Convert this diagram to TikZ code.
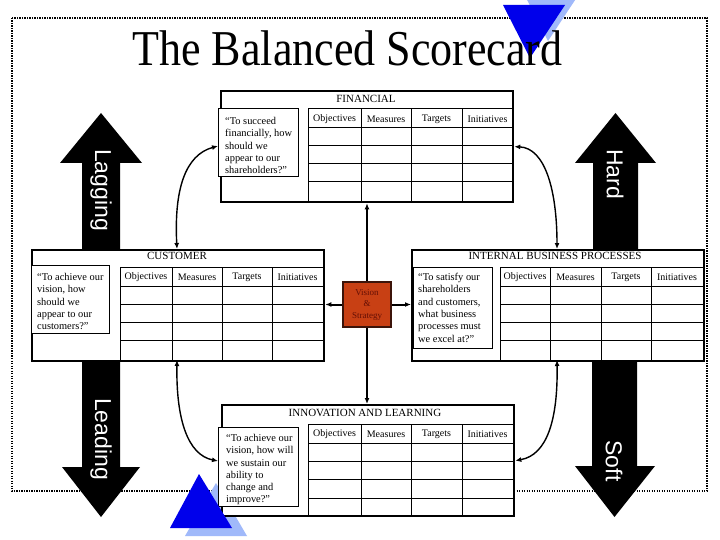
\documentclass[tikz,border=0pt]{standalone}
\usepackage{fontspec}
\usepackage{graphicx}
\setmainfont{Liberation Serif}
\newfontfamily\arialfont{Liberation Sans}
\usetikzlibrary{arrows.meta}
\definecolor{dblue}{RGB}{0,0,235}
\definecolor{lblue}{RGB}{160,185,250}
\definecolor{visfill}{RGB}{200,64,20}
\definecolor{vistext}{RGB}{100,15,5}
\definecolor{visedge}{RGB}{60,20,10}
\begin{document}
\begin{tikzpicture}[x=1pt,y=-1pt,
  box/.style={draw, line width=2.3pt, fill=white, minimum width=292pt, minimum height=111pt, anchor=north west, inner sep=0pt},
  qbox/.style={draw, line width=1.2pt, fill=white, anchor=north west, inner sep=0pt},
  qtext/.style={anchor=north west, inner sep=0pt, align=left, font=\fontsize{10.4}{12.3}\selectfont},
  grid/.style={line width=1pt},
  hdr/.style={font=\fontsize{10}{12}\selectfont, inner sep=0pt},
  ttl/.style={font=\fontsize{11}{13}\selectfont, inner sep=0pt},
  blk/.style={fill=black},
  bigtxt/.style={text=white, rotate=-90, font=\arialfont\fontsize{23}{23}\selectfont, inner sep=0pt},
  arr/.style={line width=2pt, -{Latex[length=6pt,width=5pt]}},
  carr/.style={line width=1.4pt, {Latex[length=6pt,width=5pt]}-{Latex[length=6pt,width=5pt]}},
  vis/.style={draw=visedge, line width=1.6pt, fill=visfill, text=vistext, align=center, font=\fontsize{9}{11.5}\selectfont, minimum width=48pt, minimum height=45pt, inner sep=0pt}
]
\useasboundingbox (0,0) rectangle (720,540);
\fill[white] (0,0) rectangle (720,540);

% dotted frame
\draw[line width=2.6pt, dash pattern=on 1.4pt off 1.1pt] (12,18) rectangle (707,491);

% light shadow triangles
\fill[lblue] (521,-12) -- (583,-12) -- (548,41) -- cycle;
\fill[lblue] (185,536) -- (247,536) -- (216,483) -- cycle;

% block arrows
\fill[blk] (82,249) -- (82,163) -- (60,163) -- (101,113) -- (142,163) -- (120,163) -- (120,249) -- cycle;
\fill[blk] (593,249) -- (593,163) -- (575,163) -- (615.5,113) -- (656,163) -- (638,163) -- (638,249) -- cycle;
\fill[blk] (82,360) -- (82,467) -- (62,467) -- (101,517) -- (140,467) -- (120,467) -- (120,360) -- cycle;
\fill[blk] (592,360) -- (592,466) -- (575,466) -- (614.5,517) -- (655,466) -- (637,466) -- (637,360) -- cycle;
\node[bigtxt] (lag) at (101,190) {Lagging};
\node[bigtxt] (hard) at (615,174) {Hard};
\node[bigtxt] (lead) at (101,439) {Leading};
\node[bigtxt] (soft) at (614,461) {Soft};

% boxes
\node[box] (fin) at (220,90) {};
\node[box] (cus) at (31,249) {};
\node[box] (int) at (411,249) {};
\node[box] (inn) at (221,404) {};

% titles
\node[ttl] (tfin) at (366,99) {FINANCIAL};
\node[ttl] (tcus) at (177,256) {CUSTOMER};
\node[ttl] (tint) at (555,256) {INTERNAL BUSINESS PROCESSES};
\node[ttl] (tinn) at (365,413) {INNOVATION AND LEARNING};

% financial table
\foreach \x in {308,361,411,462} \draw[grid] (\x,109) -- (\x,201);
\foreach \y in {109,128,146,164,182} \draw[grid] (308,\y) -- (512,\y);
\foreach \t/\c in {Objectives/334.5,Measures/386,Targets/436.5,Initiatives/487.5} \node[hdr] at (\c,119) {\t};

% customer table
\foreach \x in {120,172,222,272} \draw[grid] (\x,267) -- (\x,360);
\foreach \y in {267,286,304,322,340} \draw[grid] (120,\y) -- (323,\y);
\foreach \t/\c in {Objectives/146,Measures/197,Targets/247,Initiatives/297.5} \node[hdr] at (\c,277) {\t};

% internal table
\foreach \x in {500,550,601,651} \draw[grid] (\x,267) -- (\x,360);
\foreach \y in {267,286,304,322,340} \draw[grid] (500,\y) -- (703,\y);
\foreach \t/\c in {Objectives/525,Measures/575.5,Targets/626,Initiatives/677} \node[hdr] at (\c,277) {\t};

% innovation table
\foreach \x in {308,361,411,462} \draw[grid] (\x,424) -- (\x,515);
\foreach \y in {424,443,461,479,498} \draw[grid] (308,\y) -- (513,\y);
\foreach \t/\c in {Objectives/334.5,Measures/386,Targets/436.5,Initiatives/487.5} \node[hdr] at (\c,434) {\t};

% quote boxes
\node[qbox, minimum width=80pt, minimum height=68pt] (fq) at (218,108) {};
\node[qtext] (fqt) at ([xshift=7pt,yshift=-9pt]fq.north west) {“To succeed\\financially, how\\should we\\appear to our\\shareholders?”};
\node[qbox, minimum width=78pt, minimum height=68pt] (cq) at (31,265) {};
\node[qtext] (cqt) at ([xshift=6pt,yshift=-8pt]cq.north west) {“To achieve our\\vision, how\\should we\\appear to our\\customers?”};
\node[qbox, minimum width=79pt, minimum height=81pt] (iq) at (413,267) {};
\node[qtext] (iqt) at ([xshift=5pt,yshift=-6pt]iq.north west) {“To satisfy our\\shareholders\\and customers,\\what business\\processes must\\we excel at?”};
\node[qbox, minimum width=80pt, minimum height=79pt] (nq) at (218,427) {};
\node[qtext] (nqt) at ([xshift=8pt,yshift=-7pt]nq.north west) {“To achieve our\\vision, how will\\we sustain our\\ability to\\change and\\improve?”};

% curved connectors
\coordinate (c1) at (177,249);
\coordinate (c2) at (557,249);
\coordinate (c3) at (177,360);
\coordinate (c4) at (557,360);
\coordinate (q1) at (218,146);
\coordinate (q3) at (218,461);
\draw[carr] (c1) .. controls (174,190) and (185,155) .. (q1);
\draw[carr] (fin.east) .. controls (545,148) and (557,190) .. (c2);
\draw[carr] (c3) .. controls (176,420) and (188,455) .. (q3);
\draw[carr] (c4) .. controls (558,420) and (547,455) .. (inn.east);

% vision
\node[vis] (vis) at (367,304.5) {Vision\\\&\\Strategy};
\draw[arr] (vis.north) -- (vis.north |- fin.south);
\draw[arr] (vis.south) -- (vis.south |- inn.north);
\draw[arr] (vis.west) -- (vis.west -| cus.east);
\draw[arr] (vis.east) -- (vis.east -| int.west);

% dark triangles
\fill[dblue] (503,5) -- (565,5) -- (530,58) -- cycle;
\fill[dblue] (170,528) -- (232,528) -- (199,474) -- cycle;

% title
\node[anchor=base, inner sep=0pt, font=\fontsize{44}{44}\selectfont] (title) at (347.5,66) {\scalebox{1}[1.14]{The Balanced Scorecard}};
\end{tikzpicture}
\end{document}
